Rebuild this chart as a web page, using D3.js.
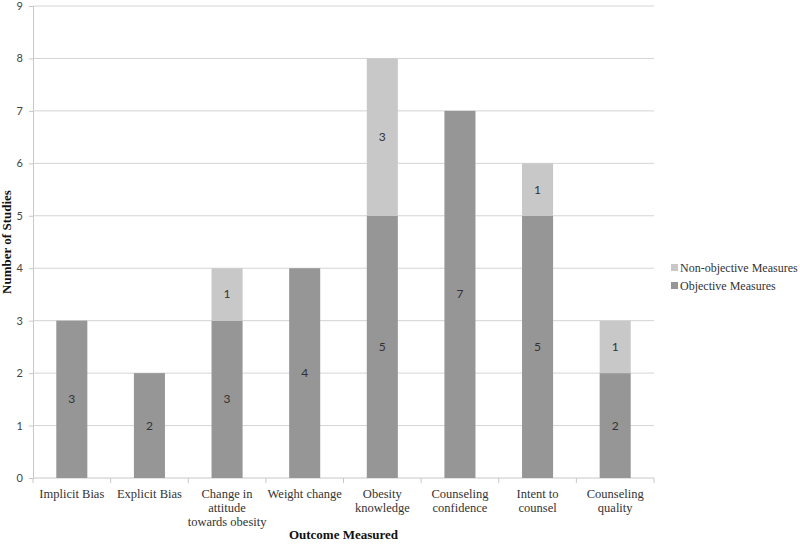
<!DOCTYPE html>
<html><head><meta charset="utf-8">
<script src="https://cdn.jsdelivr.net/npm/d3@7"></script>
<style>body{margin:0;background:#fff}</style>
</head><body>
<svg id="chart" width="800" height="544"></svg>
<script>
const categories = [["Implicit Bias"],["Explicit Bias"],["Change in","attitude","towards obesity"],["Weight change"],["Obesity","knowledge"],["Counseling","confidence"],["Intent to","counsel"],["Counseling","quality"]];
const objective = [3,2,3,4,5,7,5,2];
const nonObjective = [0,0,1,0,3,0,1,1];
const yTicks = [0,1,2,3,4,5,6,7,8,9];
const seriesNames = ["Non-objective Measures","Objective Measures"];
const colors = {obj:"#969696", non:"#c8c8c8"};
const serif = "'Liberation Serif', 'Times New Roman', Tinos, serif";
const sans = "Lato, 'Open Sans', sans-serif";

const svg = d3.select("#chart");
const m = {left:33, right:654, top:6, bottom:478};
const x = d3.scaleBand().domain(d3.range(categories.length)).range([m.left, m.right]);
const y = d3.scaleLinear().domain([0,9]).range([m.bottom, m.top]);
const bw = x.bandwidth()*0.4;

svg.append("g").selectAll("line").data(yTicks.filter(d=>d>0)).join("line")
  .attr("x1", m.left).attr("x2", m.right)
  .attr("y1", d=>y(d)).attr("y2", d=>y(d))
  .attr("stroke","#d4d4d4").attr("stroke-width",1);

const yAxis = svg.append("g").attr("transform",`translate(${m.left},0)`)
  .call(d3.axisLeft(y).tickValues(yTicks).tickSize(4).tickPadding(6));
yAxis.select(".domain").attr("stroke","#c8c8c8");
yAxis.selectAll(".tick line").attr("stroke","#c8c8c8");
yAxis.selectAll("text").attr("font-family",sans).attr("font-size",11).attr("fill","#444");

svg.append("line").attr("x1",m.left).attr("x2",m.right).attr("y1",m.bottom).attr("y2",m.bottom).attr("stroke","#c8c8c8");
svg.append("g").selectAll("line").data(d3.range(categories.length+1)).join("line")
  .attr("x1", d=>m.left + d*x.step()).attr("x2", d=>m.left + d*x.step())
  .attr("y1", m.bottom).attr("y2", m.bottom+5).attr("stroke","#c8c8c8");

const gBars = svg.append("g");
categories.forEach((c,i)=>{
  const cx = x(i)+x.bandwidth()/2;
  gBars.append("rect").attr("x",cx-bw/2).attr("width",bw)
    .attr("y",y(objective[i])).attr("height",y(0)-y(objective[i])).attr("fill",colors.obj);
  svg.append("text").attr("x",cx).attr("y",y(objective[i]/2)+4).attr("text-anchor","middle")
    .attr("font-family",sans).attr("font-size",12).attr("fill","#333").text(objective[i]);
  if(nonObjective[i]>0){
    const top = objective[i]+nonObjective[i];
    gBars.append("rect").attr("x",cx-bw/2).attr("width",bw)
      .attr("y",y(top)).attr("height",y(objective[i])-y(top)).attr("fill",colors.non);
    svg.append("text").attr("x",cx).attr("y",y(objective[i]+nonObjective[i]/2)+4).attr("text-anchor","middle")
      .attr("font-family",sans).attr("font-size",12).attr("fill","#333").text(nonObjective[i]);
  }
  const t = svg.append("text").attr("text-anchor","middle")
    .attr("font-family",serif).attr("font-size",12.5).attr("fill","#333");
  c.forEach((line,j)=>{
    t.append("tspan").attr("x",cx).attr("y",498+j*14).text(line);
  });
});

svg.append("text").attr("x",(m.left+m.right)/2).attr("y",539).attr("text-anchor","middle")
  .attr("font-family",serif).attr("font-weight","bold").attr("font-size",13).attr("fill","#111")
  .text("Outcome Measured");
svg.append("text").attr("transform",`translate(11,${(m.top+m.bottom)/2}) rotate(-90)`).attr("text-anchor","middle")
  .attr("font-family",serif).attr("font-weight","bold").attr("font-size",13).attr("fill","#111")
  .text("Number of Studies");

const leg = svg.append("g").attr("transform","translate(671,268)");
seriesNames.forEach((s,i)=>{
  leg.append("rect").attr("x",0).attr("y",i*18-4).attr("width",7).attr("height",7)
    .attr("fill", i===0?colors.non:colors.obj);
  const lt = leg.append("text").attr("x",9).attr("y",i*18+4)
    .attr("font-family",serif).attr("font-size",12).attr("fill","#333").text(s);
  const w = lt.node().getComputedTextLength();
  if (w > 118) lt.attr("textLength",118).attr("lengthAdjust","spacingAndGlyphs");
});
</script>
</body></html>
